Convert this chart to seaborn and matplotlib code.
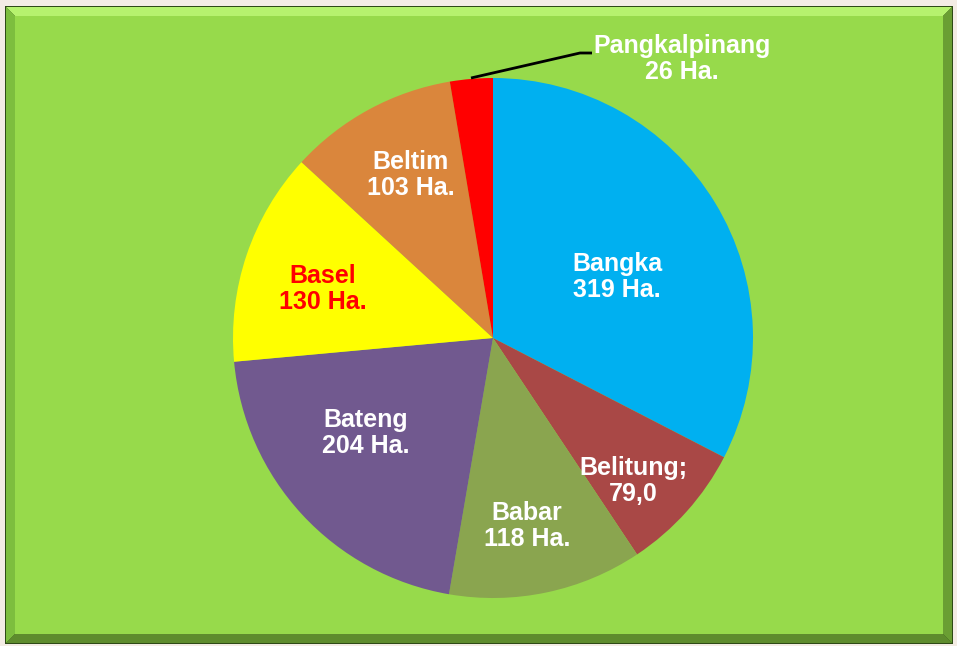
import matplotlib
matplotlib.use("Agg")
import matplotlib.pyplot as plt
import matplotlib.patches as mpatches
import seaborn as sns

sns.set_theme(style="white")
plt.rcParams['font.family'] = ['Liberation Sans', 'DejaVu Sans']

# Data
regions = ["Bangka", "Belitung", "Babar", "Bateng", "Basel", "Beltim", "Pangkalpinang"]
values = [319, 79, 118, 204, 130, 103, 26]
label_texts = ["Bangka\n319 Ha.", "Belitung;\n79,0", "Babar\n118 Ha.", "Bateng\n204 Ha.",
               "Basel\n130 Ha.", "Beltim\n103 Ha.", "Pangkalpinang\n26 Ha."]
colors = ["#00B0F0", "#A94846", "#8AA54F", "#71598F", "#FFFF00", "#DA863C", "#FF0000"]
label_colors = ["white", "white", "white", "white", "#FF0000", "white", "white"]

W, H = 957, 646
fig = plt.figure(figsize=(W / 100, H / 100), dpi=100)
fig.patch.set_facecolor("#F3ECE4")
ax = fig.add_axes([0, 0, 1, 1])

# Panel with bevel
x0, y0, x1, y1 = 6, 3, 952, 639
ax.add_patch(mpatches.Rectangle((x0 - 1, y0 - 1), x1 - x0 + 2, y1 - y0 + 2, facecolor="#2E4A16", edgecolor="none", zorder=0))
b = 9
ax.add_patch(mpatches.Polygon([(x0, y1), (x1, y1), (x1 - b, y1 - b), (x0 + b, y1 - b)], closed=True, facecolor="#B6F26E", edgecolor="none", zorder=1))
ax.add_patch(mpatches.Polygon([(x0, y0), (x0, y1), (x0 + b, y1 - b), (x0 + b, y0 + b)], closed=True, facecolor="#7DBE3E", edgecolor="none", zorder=1))
ax.add_patch(mpatches.Polygon([(x1, y0), (x1, y1), (x1 - b, y1 - b), (x1 - b, y0 + b)], closed=True, facecolor="#6A9E33", edgecolor="none", zorder=1))
ax.add_patch(mpatches.Polygon([(x0, y0), (x1, y0), (x1 - b, y0 + b), (x0 + b, y0 + b)], closed=True, facecolor="#5E8C2D", edgecolor="none", zorder=1))
ax.add_patch(mpatches.Rectangle((x0 + b, y0 + b), x1 - x0 - 2 * b, y1 - y0 - 2 * b, facecolor="#97DA4B", edgecolor="none", zorder=1))

cx, cy, r = 493, H - 338, 260
wedges, _ = ax.pie(values, colors=colors, startangle=90, counterclock=False,
                   center=(cx, cy), radius=r, frame=True,
                   wedgeprops=dict(linewidth=0, zorder=2))
ax.set_xlim(0, W)
ax.set_ylim(0, H)
ax.axis("off")

# label positions (pixel coords from top-left)
label_pos = [(617, 277), (633, 481), (527, 526), (366, 433), (323, 289), (411, 175), (682, 59)]
for txt, (lx, ly), c in zip(label_texts, label_pos, label_colors):
    ax.text(lx, H - ly, txt, ha="center", va="center", color=c, fontsize=18,
            fontweight="bold", linespacing=1.08, zorder=5)

# leader line for Pangkalpinang
ax.plot([471, 580, 592], [H - 78, H - 53, H - 53], color="black", linewidth=2, zorder=4,
        solid_capstyle="butt")

fig.savefig("out.png", dpi=100, facecolor=fig.get_facecolor())
